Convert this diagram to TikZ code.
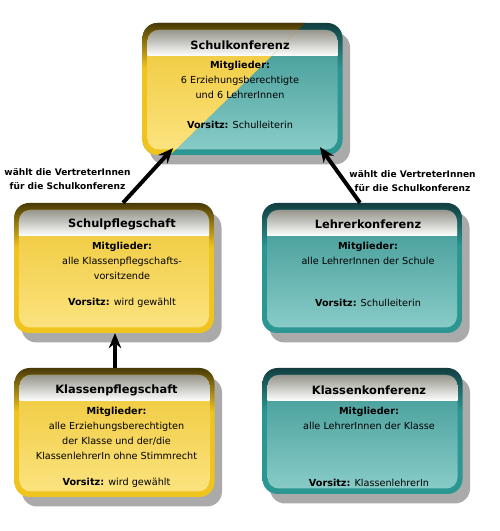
\documentclass[tikz,border=0pt]{standalone}
\usepackage{fontspec}
\setmainfont{DejaVu Sans}
\usepackage{tikz}
\usetikzlibrary{shadows, arrows.meta, positioning, calc}

\definecolor{yrimtop}{RGB}{72, 58, 8}
\definecolor{yrimlow}{RGB}{240, 196, 30}
\definecolor{yintop}{RGB}{238, 198, 50}
\definecolor{yinbot}{RGB}{252, 228, 130}
\definecolor{trimtop}{RGB}{18, 62, 64}
\definecolor{trimlow}{RGB}{44, 150, 146}
\definecolor{tintop}{RGB}{56, 148, 145}
\definecolor{tinbot}{RGB}{140, 206, 202}
\definecolor{hdtop}{RGB}{150, 150, 140}
\definecolor{shadowgray}{RGB}{170, 170, 170}

\pgfdeclareverticalshading{yrim}{100bp}{color(0bp)=(yrimlow); color(58bp)=(yrimlow); color(75bp)=(yrimtop); color(100bp)=(yrimtop)}
\pgfdeclareverticalshading{trim}{100bp}{color(0bp)=(trimlow); color(58bp)=(trimlow); color(75bp)=(trimtop); color(100bp)=(trimtop)}

\begin{document}
\begin{tikzpicture}[
  gremium/.style n args={3}{shade, shading=#1, rounded corners=0.6cm, minimum width=8cm, minimum height=5.2cm,
    drop shadow={shadow xshift=0.3cm, shadow yshift=-0.38cm, fill=shadowgray, opacity=1},
    path picture={
      \shade[rounded corners=0.45cm, top color=#2, bottom color=#3]
        ([shift={(0.2,-0.28)}]path picture bounding box.north west) rectangle ([shift={(-0.2,0.22)}]path picture bounding box.south east);
      \begin{scope}
        \clip[rounded corners=0.45cm] ([shift={(0.2,-0.28)}]path picture bounding box.north west) rectangle ([shift={(-0.2,0.22)}]path picture bounding box.south east);
        \shade[sharp corners, top color=hdtop, bottom color=white] ([shift={(0.2,-0.28)}]path picture bounding box.north west) rectangle ([shift={(-0.2,-1.32)}]path picture bounding box.north east);
      \end{scope}
    }},
  ybox/.style={gremium={yrim}{yintop}{yinbot}},
  tbox/.style={gremium={trim}{tintop}{tinbot}},
  titel/.style={font=\fontsize{13}{15}\selectfont\bfseries},
  inhalt/.style={align=center, font=\fontsize{11}{17}\selectfont, inner sep=0pt},
  wahl/.style={align=center, font=\fontsize{10.3}{16}\selectfont\bfseries},
  pfeil/.style={-{Stealth[length=0.6cm, width=0.5cm]}, line width=4.5pt}
]
  \useasboundingbox (0,0) rectangle (20,21.24);

  % Schulkonferenz: halb Eltern, halb Lehrer
  \node[tbox, minimum height=5.28cm] (sk) at (9.7,17.68) {};
  \begin{scope}
    \clip (5.74,14) -- (12.9,21) -- (5,21) -- (5,14) -- cycle;
    \node[ybox, minimum height=5.28cm] (skgelb) at (9.7,17.68) {};
  \end{scope}
  \node[titel] (sktitel) at (9.6,19.44) {Schulkonferenz};
  \node[inhalt, anchor=north] (skmit) at (9.6,18.8) {\textbf{Mitglieder:}\\ 6 Erziehungsberechtigte\\ und 6 LehrerInnen};
  \node[inhalt] (skvor) at (9.6,16.24) {\textbf{Vorsitz:} Schulleiterin};

  % mittlere Ebene
  \node[ybox] (spf) at (4.56,10.52) {};
  \node[titel] (spftitel) at (4.88,12.28) {Schulpflegschaft};
  \node[inhalt, anchor=north] (spfmit) at (4.88,11.56) {\textbf{Mitglieder:}\\ alle Klassenpflegschafts-\\ vorsitzende};
  \node[inhalt] (spfvor) at (4.88,9.12) {\textbf{Vorsitz:} wird gewählt};

  \node[tbox] (lk) at (14.48,10.52) {};
  \node[titel] (lktitel) at (14.72,12.28) {Lehrerkonferenz};
  \node[inhalt, anchor=north] (lkmit) at (14.72,11.56) {\textbf{Mitglieder:}\\ alle LehrerInnen der Schule};
  \node[inhalt] (lkvor) at (14.72,9.12) {\textbf{Vorsitz:} Schulleiterin};

  % untere Ebene
  \node[ybox, minimum height=5.16cm] (kpf) at (4.58,3.94) {};
  \node[titel] (kpftitel) at (4.66,5.64) {Klassenpflegschaft};
  \node[inhalt, anchor=north] (kpfmit) at (4.66,4.96) {\textbf{Mitglieder:}\\ alle Erziehungsberechtigten\\ der Klasse und der/die\\ KlassenlehrerIn ohne Stimmrecht};
  \node[inhalt] (kpfvor) at (4.66,1.92) {\textbf{Vorsitz:} wird gewählt};

  \node[tbox, minimum height=5.04cm] (kk) at (14.5,4.0) {};
  \node[titel] (kktitel) at (14.76,5.64) {Klassenkonferenz};
  \node[inhalt, anchor=north] (kkmit) at (14.76,4.96) {\textbf{Mitglieder:}\\ alle LehrerInnen der Klasse};
  \node[inhalt] (kkvor) at (14.76,1.92) {\textbf{Vorsitz:} KlassenlehrerIn};

  % Wahlen
  \draw[pfeil] ([xshift=0.36cm]spf.north) -- ([xshift=-2.78cm, yshift=0.28cm]sk.south);
  \draw[pfeil] ([xshift=-0.08cm]lk.north) -- ([xshift=3.1cm, yshift=0.32cm]sk.south);
  \draw[pfeil] ([xshift=0.02cm]kpf.north) -- ([xshift=0.04cm]spf.south);

  \node[wahl] (wahllinks) at (2.7,14.08) {wählt die VertreterInnen\\ für die Schulkonferenz};
  \node[wahl] (wahlrechts) at (16.5,14.0) {wählt die VertreterInnen\\ für die Schulkonferenz};
\end{tikzpicture}
\end{document}
